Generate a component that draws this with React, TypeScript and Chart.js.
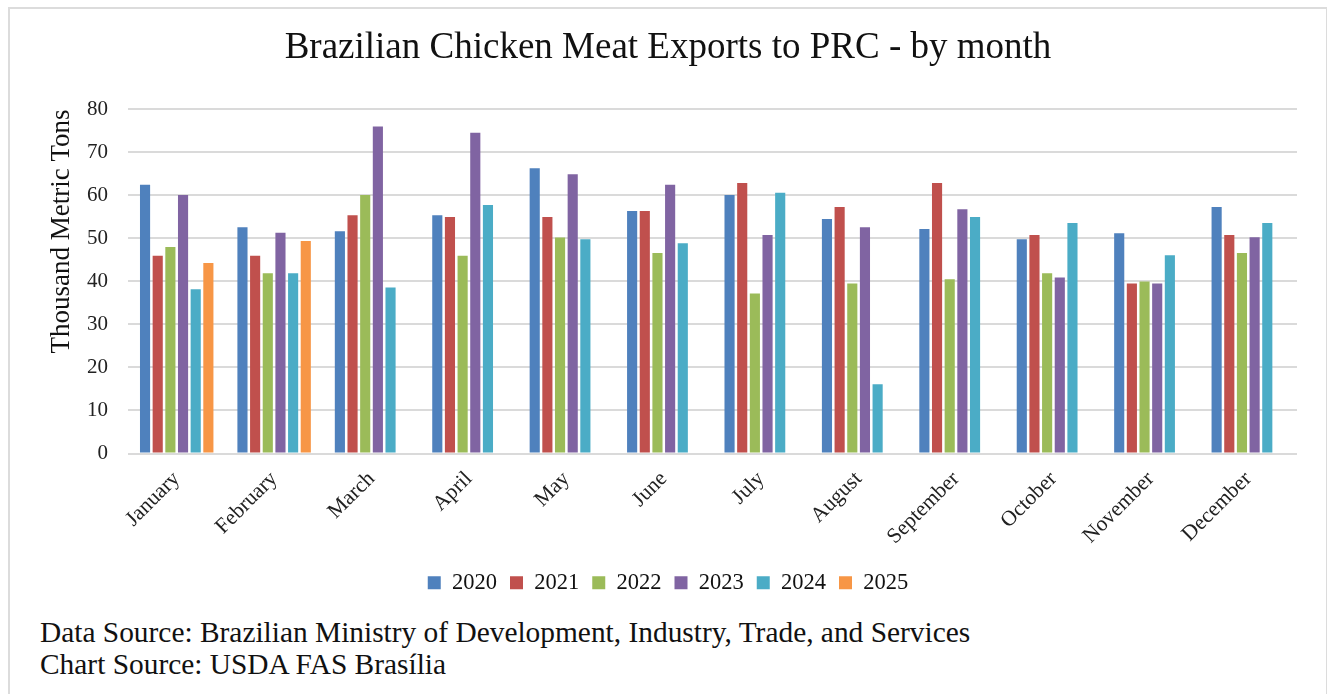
import React, { useEffect, useRef } from "react";
import { Chart, registerables } from "chart.js";

Chart.register(...registerables);

const months = ["January", "February", "March", "April", "May", "June", "July", "August", "September", "October", "November", "December"];
const years = ["2020", "2021", "2022", "2023", "2024", "2025"];
const colors = ["#4F81BD", "#C0504D", "#9BBB59", "#8064A2", "#4BACC6", "#F79646"];

const v2020 = [62.5, 52.6, 51.7, 55.4, 66.3, 56.4, 60.1, 54.5, 52.2, 49.8, 51.2, 57.3];
const v2021 = [46.0, 46.0, 55.4, 55.0, 55.0, 56.4, 62.9, 57.3, 62.9, 50.8, 39.5, 50.8];
const v2022 = [48.0, 41.9, 60.1, 46.0, 50.2, 46.6, 37.2, 39.5, 40.5, 41.9, 40.0, 46.6];
const v2023 = [60.1, 51.3, 76.0, 74.6, 64.9, 62.5, 50.8, 52.6, 56.8, 40.9, 39.5, 50.3];
const v2024 = [38.2, 41.9, 38.6, 57.8, 49.8, 48.9, 60.6, 16.1, 55.0, 53.6, 46.1, 53.6];
const v2025 = [44.3, 49.4, null, null, null, null, null, null, null, null, null, null];

const yTicks = [0, 10, 20, 30, 40, 50, 60, 70, 80];

const titleText = "Brazilian Chicken Meat Exports to PRC - by month";
const yTitle = "Thousand Metric Tons";
const footer1 = "Data Source: Brazilian Ministry of Development, Industry, Trade, and Services";
const footer2 = "Chart Source: USDA FAS Brasília";

const FONT = "'Times New Roman', 'Liberation Serif', serif";

export default function App() {
  const ref = useRef<HTMLCanvasElement>(null);
  useEffect(() => {
    const series = [v2020, v2021, v2022, v2023, v2024, v2025];
    const chart = new Chart(ref.current!, {
      type: "bar",
      data: {
        labels: months,
        datasets: years.map((y, i) => ({
          label: y,
          data: series[i],
          backgroundColor: colors[i],
          borderWidth: 0,
          categoryPercentage: 0.78,
          barPercentage: 0.8,
        })),
      },
      options: {
        animation: false,
        responsive: false,
        maintainAspectRatio: false,
        layout: { padding: { left: 0, right: 0, top: 0, bottom: 5 } },
        plugins: {
          title: {
            display: true,
            text: titleText,
            color: "#111",
            font: { family: FONT, size: 37, weight: "normal" },
            padding: { top: 17, bottom: 39 },
          },
          legend: {
            position: "bottom",
            labels: {
              color: "#111",
              font: { family: FONT, size: 22.5 },
              boxWidth: 13,
              boxHeight: 13,
              padding: 13,
            },
          },
          tooltip: { enabled: false },
        },
        scales: {
          x: {
            grid: { display: false, drawTicks: false },
            border: { display: false },
            ticks: {
              color: "#222",
              font: { family: FONT, size: 21.5 },
              minRotation: 45,
              maxRotation: 45,
              padding: 13,
            },
            afterFit: (s: any) => {
              s.height = 105;
            },
          },
          y: {
            min: 0,
            max: 80,
            afterBuildTicks: (s: any) => {
              s.ticks = yTicks.map((v) => ({ value: v }));
            },
            grid: { color: "#dadada", lineWidth: 2, drawTicks: false },
            border: { display: false },
            ticks: {
              color: "#222",
              font: { family: FONT, size: 21 },
              padding: 20,
            },
            title: {
              display: true,
              text: yTitle,
              align: "end",
              color: "#111",
              font: { family: FONT, size: 27 },
              padding: { top: 36, bottom: 0 },
            },
            afterFit: (s: any) => {
              s.width = 118;
            },
          },
          yr: {
            position: "right",
            display: true,
            min: 0,
            max: 80,
            grid: { display: false, drawTicks: false },
            border: { display: false },
            ticks: { display: false },
            afterFit: (s: any) => {
              s.width = 29;
            },
          },
        },
      },
    });
    return () => chart.destroy();
  }, []);

  return (
    <div style={{ position: "fixed", inset: 0, overflow: "hidden", background: "#fff" }}>
      <div
        style={{
          position: "absolute",
          left: 8,
          top: 7,
          width: 1320,
          height: 720,
          border: "2px solid #dcdcdc",
          boxSizing: "border-box",
        }}
      >
        <canvas ref={ref} width={1316} height={600} style={{ display: "block", width: 1316, height: 600 }} />
      </div>
      <div
        style={{
          position: "absolute",
          left: 40,
          top: 616,
          fontFamily: FONT,
          fontSize: 29.4,
          lineHeight: "32px",
          color: "#111",
          whiteSpace: "nowrap",
        }}
      >
        <div>{footer1}</div>
        <div>{footer2}</div>
      </div>
    </div>
  );
}
